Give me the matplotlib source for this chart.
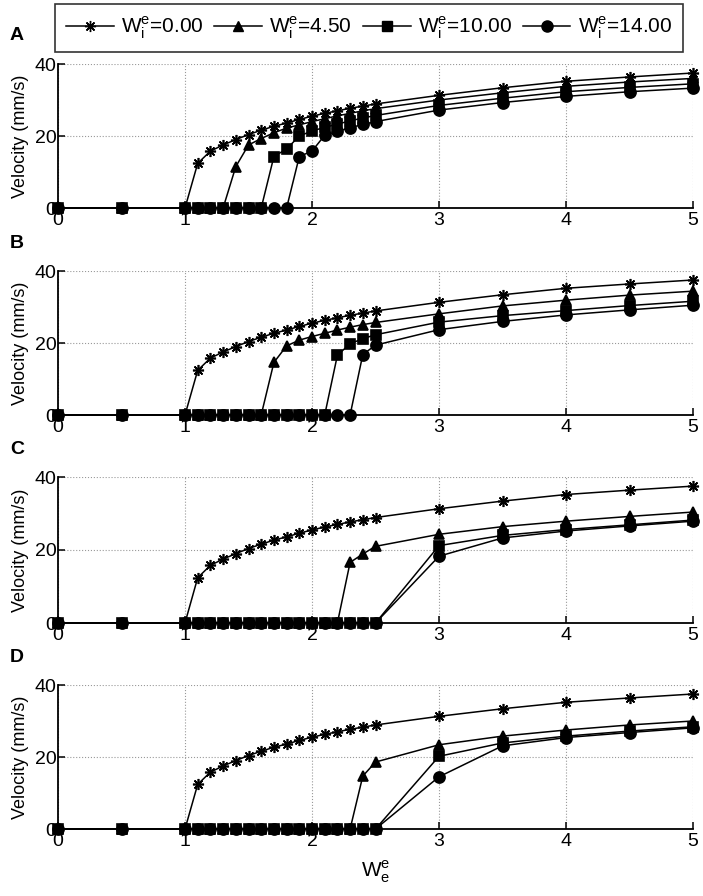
import numpy as np
import matplotlib.pyplot as plt
from matplotlib.lines import Line2D

plt.rcParams['font.family'] = ['Liberation Sans', 'DejaVu Sans']

# W_e^e values (x axis)
x = [0, 0.5, 1.0, 1.1, 1.2, 1.3, 1.4, 1.5, 1.6, 1.7, 1.8, 1.9, 2.0, 2.1, 2.2,
     2.3, 2.4, 2.5, 3.0, 3.5, 4.0, 4.5, 5.0]

# W_i^e = 0.00 curve (same in every panel)
v_w0 = [0, 0, 0, 12.4, 15.8, 17.5, 19.0, 20.4, 21.6, 22.7, 23.6, 24.6, 25.5,
        26.3, 27.0, 27.7, 28.3, 28.9, 31.3, 33.4, 35.2, 36.4, 37.5]

# panel A
A_w45 = [0, 0, 0, 0, 0, 0, 11.5, 17.5, 19.3, 20.9, 22.2, 23.1, 24.0, 24.8,
         25.6, 26.3, 27.0, 27.6, 30.0, 32.0, 33.8, 35.0, 36.0]
A_w10 = [0, 0, 0, 0, 0, 0, 0, 0, 0, 14.3, 16.4, 20.0, 21.4, 22.4, 23.3, 24.2,
         25.0, 25.7, 28.5, 30.5, 32.3, 33.5, 34.5]
A_w14 = [0, 0, 0, 0, 0, 0, 0, 0, 0, 0, 0, 14.3, 15.8, 20.2, 21.3, 22.3, 23.2,
         24.0, 27.2, 29.3, 31.0, 32.3, 33.3]
# panel B
B_w45 = [0, 0, 0, 0, 0, 0, 0, 0, 0, 14.6, 19.2, 20.8, 21.8, 22.7, 23.6, 24.4,
         25.1, 25.7, 28.1, 30.3, 31.9, 33.3, 34.4]
B_w10 = [0, 0, 0, 0, 0, 0, 0, 0, 0, 0, 0, 0, 0, 0, 16.6, 19.8, 21.2, 22.3,
         25.8, 27.6, 29.0, 30.4, 31.6]
B_w14 = [0, 0, 0, 0, 0, 0, 0, 0, 0, 0, 0, 0, 0, 0, 0, 0, 16.8, 19.4, 23.7,
         26.0, 27.8, 29.2, 30.5]
# panel C
C_w45 = [0, 0, 0, 0, 0, 0, 0, 0, 0, 0, 0, 0, 0, 0, 0, 16.6, 18.9, 21.0, 24.3,
         26.4, 27.9, 29.2, 30.4]
C_w10 = [0, 0, 0, 0, 0, 0, 0, 0, 0, 0, 0, 0, 0, 0, 0, 0, 0, 0, 21.2, 24.0,
         25.6, 26.9, 28.2]
C_w14 = [0, 0, 0, 0, 0, 0, 0, 0, 0, 0, 0, 0, 0, 0, 0, 0, 0, 0, 18.3, 23.3,
         25.2, 26.6, 27.9]
# panel D
D_w45 = [0, 0, 0, 0, 0, 0, 0, 0, 0, 0, 0, 0, 0, 0, 0, 0, 14.7, 18.6, 23.4,
         25.8, 27.5, 28.9, 30.0]
D_w10 = [0, 0, 0, 0, 0, 0, 0, 0, 0, 0, 0, 0, 0, 0, 0, 0, 0, 0, 20.2, 23.9,
         25.8, 27.2, 28.4]
D_w14 = [0, 0, 0, 0, 0, 0, 0, 0, 0, 0, 0, 0, 0, 0, 0, 0, 0, 0, 14.5, 23.1,
         25.4, 26.8, 28.1]

panels = ['A', 'B', 'C', 'D']
panel_data = [(A_w45, A_w10, A_w14), (B_w45, B_w10, B_w14),
              (C_w45, C_w10, C_w14), (D_w45, D_w10, D_w14)]
labels = [r'W$_\mathregular{i}^\mathregular{e}$=0.00',
          r'W$_\mathregular{i}^\mathregular{e}$=4.50',
          r'W$_\mathregular{i}^\mathregular{e}$=10.00',
          r'W$_\mathregular{i}^\mathregular{e}$=14.00']
markers = [(8, 2, 0), '^', 's', 'o']
msizes = [8, 7.5, 6.5, 8]

W, H = 703., 896.
fig = plt.figure(figsize=(W/100, H/100), dpi=100)

# axes tops/bottoms in pixels
tops = [64, 271, 477, 685]
bots = [208, 415, 623, 829]
left, right = 58, 693

for k in range(4):
    ax = fig.add_axes([left/W, 1 - bots[k]/H, (right-left)/W, (bots[k]-tops[k])/H])
    series = [v_w0] + list(panel_data[k])
    for s, m, ms in zip(series, markers, msizes):
        ax.plot(x, s, color='black', lw=1.1, marker=m, ms=ms, mew=1.2,
                clip_on=False, zorder=3)
    ax.set_xlim(0, 5)
    ax.set_ylim(0, 40)
    ax.set_xticks([0, 1, 2, 3, 4, 5])
    ax.set_yticks([0, 20, 40])
    ax.grid(True, ls=':', color='#999999', lw=0.8)
    ax.spines['top'].set_visible(False)
    ax.spines['right'].set_visible(False)
    ax.spines['left'].set_linewidth(1.3)
    ax.spines['bottom'].set_linewidth(1.3)
    ax.tick_params(direction='in', length=5, width=1.1, labelsize=14)
    ax.tick_params(axis='x', pad=3)
    ax.tick_params(axis='y', pad=1)
    ax.set_ylabel('Velocity (mm/s)', fontsize=13, labelpad=4)
    fig.text(17/W, 1 - (tops[k] - 28)/H, panels[k], fontsize=14,
             fontweight='bold', ha='center', va='center')
    if k == 3:
        ax.set_xlabel(r'W$_\mathregular{e}^\mathregular{e}$', fontsize=15, labelpad=6)

handles = [Line2D([], [], color='black', lw=1.1, marker=m, ms=ms)
           for m, ms in zip(markers, msizes)]
leg = fig.legend(handles, labels, ncol=4, loc='center',
                 bbox_to_anchor=(369/W, 1 - 28/H), fontsize=15,
                 frameon=True, fancybox=False, edgecolor='black',
                 handlelength=2.3, handletextpad=0.35, columnspacing=0.5,
                 borderpad=0.5)
leg.get_frame().set_linewidth(1.2)

fig.savefig('out.png', dpi=100)
